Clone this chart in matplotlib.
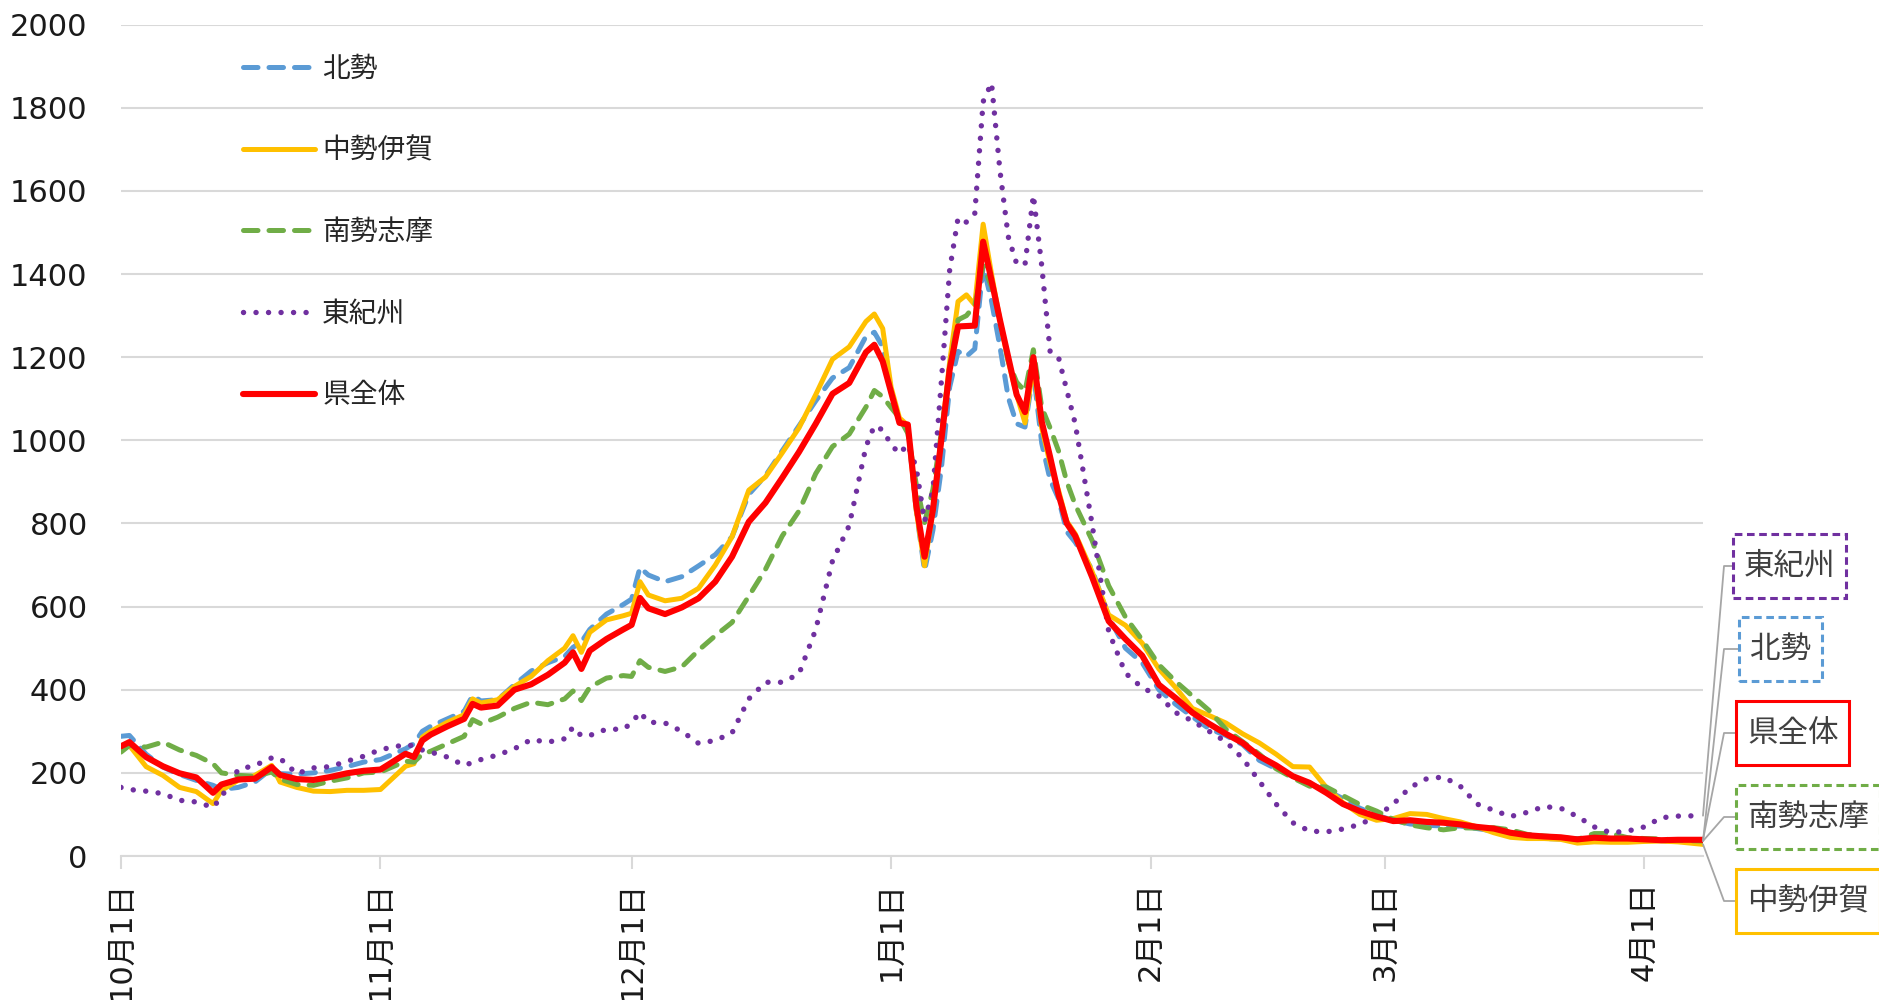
import numpy as np
import matplotlib
matplotlib.use('Agg')
import matplotlib.pyplot as plt
import matplotlib.dates as mdates
from matplotlib.path import Path
from matplotlib.ticker import FuncFormatter, MultipleLocator

plt.rcParams['font.family'] = ['DejaVu Sans', 'Noto Sans CJK JP']

# days since 2021-10-01
day_offsets = ([0, 1, 3, 5, 7, 9, 11, 12, 14, 16, 18, 19, 21, 23, 25, 27, 29, 31,
                34, 35, 36, 37, 39, 41, 42, 43, 45, 47, 49, 51, 53, 54, 55, 56, 58, 60,
                61, 62, 63, 65, 67, 69, 71, 73, 75, 77, 79, 81, 83, 85, 87, 89]
               + list(range(90, 115)) + list(range(116, 188, 2)) + [189])
dates = np.datetime64('2021-10-01') + np.array(day_offsets).astype('timedelta64[D]')

hokusei = [288, 290, 245, 214, 196, 182, 170, 160, 165, 178, 210, 198, 197, 200, 206, 215, 226, 232,
           258, 270, 300, 312, 330, 348, 386, 373, 376, 412, 445, 465, 480, 502, 515, 545, 582, 605,
           618, 694, 676, 660, 672, 698, 725, 768, 870, 915, 975, 1035, 1095, 1150, 1175, 1250,
           1260, 1225, 1116, 1042, 1030, 833, 686, 784, 931, 1128, 1214, 1202, 1220, 1420, 1335,
           1226, 1103, 1040, 1032, 1165, 993, 905, 860, 780, 755,
           690, 575, 500, 465, 400, 365, 335, 306, 290, 268, 230, 210, 192, 174, 158, 138, 115, 98,
           86, 77, 74, 72, 72, 66, 60, 52, 46, 42, 41, 42, 42, 42, 41, 39, 37, 36, 36]

chusei_iga = [258, 266, 215, 194, 165, 155, 126, 158, 182, 194, 218, 178, 165, 156, 155, 158, 158, 160,
              216, 222, 286, 300, 322, 340, 378, 368, 376, 408, 432, 470, 500, 530, 490, 538, 568, 578,
              584, 660, 628, 614, 620, 644, 700, 768, 880, 912, 970, 1030, 1110, 1195, 1225, 1286,
              1304, 1269, 1128, 1054, 1036, 833, 698, 833, 1005, 1189, 1334, 1350, 1326, 1520, 1400,
              1290, 1190, 1110, 1042, 1180, 1030, 944, 880, 805, 775,
              685, 580, 555, 512, 450, 405, 355, 338, 320, 294, 272, 245, 215, 214, 165, 128, 100, 86,
              90, 102, 100, 90, 82, 70, 56, 45, 42, 42, 40, 31, 34, 33, 33, 35, 36, 34, 28]

nansei_shima = [250, 266, 262, 274, 255, 242, 222, 200, 194, 192, 202, 185, 172, 170, 180, 188, 200, 202,
                228, 226, 245, 252, 270, 288, 328, 318, 334, 355, 370, 364, 378, 397, 374, 406, 428, 434,
                432, 470, 454, 444, 455, 495, 530, 562, 625, 690, 770, 830, 920, 985, 1015, 1080,
                1120, 1105, 1079, 1054, 1017, 895, 802, 882, 1017, 1177, 1290, 1300, 1325, 1420, 1370,
                1290, 1190, 1140, 1118, 1218, 1079, 1030, 975, 900, 845,
                760, 650, 575, 520, 460, 420, 385, 350, 305, 275, 245, 210, 188, 168, 166, 145, 124, 108,
                88, 75, 68, 63, 68, 67, 68, 63, 52, 48, 45, 40, 54, 54, 44, 42, 41, 38, 36]

higashi_kishu = [165, 160, 156, 150, 134, 130, 117, 142, 208, 218, 236, 235, 198, 212, 215, 228, 240, 256,
                 268, 265, 255, 250, 238, 218, 225, 232, 243, 258, 280, 274, 282, 310, 289, 290, 305, 305,
                 320, 346, 322, 320, 300, 271, 278, 296, 378, 418, 418, 438, 545, 710, 795, 985,
                 1035, 1025, 990, 968, 990, 935, 805, 880, 1140, 1410, 1535, 1525, 1546, 1815, 1860,
                 1650, 1490, 1425, 1423, 1590, 1420, 1214, 1200, 1120, 1040,
                 800, 540, 440, 405, 385, 345, 325, 300, 275, 235, 180, 125, 80, 60, 58, 65, 76, 95,
                 125, 165, 186, 190, 168, 125, 110, 95, 105, 119, 115, 95, 70, 56, 60, 70, 92, 96, 97]

ken_zentai = [264, 274, 238, 216, 199, 189, 152, 172, 184, 186, 214, 195, 185, 183, 190, 199, 205, 208,
              246, 238, 278, 292, 312, 330, 366, 357, 362, 400, 413, 436, 465, 490, 450, 494, 522, 545,
              556, 621, 596, 582, 598, 620, 660, 720, 804, 850, 910, 972, 1040, 1112, 1138, 1212,
              1230, 1190, 1116, 1042, 1038, 845, 720, 833, 1000, 1170, 1274, 1275, 1276, 1478, 1385,
              1290, 1200, 1110, 1068, 1200, 1045, 960, 870, 800, 770,
              672, 565, 522, 482, 412, 380, 345, 318, 294, 272, 240, 218, 192, 176, 152, 125, 108, 95,
              84, 86, 82, 80, 76, 70, 66, 56, 50, 47, 45, 40, 44, 42, 42, 40, 38, 39, 39]

names = ['北勢', '中勢伊賀', '南勢志摩', '東紀州', '県全体']
values = [hokusei, chusei_iga, nansei_shima, higashi_kishu, ken_zentai]
colors = ['#5B9BD5', '#FFC000', '#70AD47', '#7030A0', '#FF0000']
styles = [(0, (2.9, 2.2)), '-', (0, (2.9, 2.2)), (0, (0.01, 2.3)), '-']
widths = [3.6, 3.6, 3.6, 3.9, 4.4]

fig = plt.figure(figsize=(18.79, 10), dpi=100)
ax = fig.add_axes([121 / 1879, 0.144, 1582 / 1879, 0.8313])

lines = []
for name, vals, c, ls, lw in zip(names, values, colors, styles, widths):
    ln, = ax.plot(dates, vals, color=c, ls=ls, lw=lw, label=name,
                  dash_capstyle='round', solid_capstyle='round',
                  solid_joinstyle='round', dash_joinstyle='round')
    lines.append(ln)

ax.set_xlim(dates[0], dates[-1])
ax.set_ylim(0, 2000)
ax.yaxis.set_major_locator(MultipleLocator(200))
ax.yaxis.grid(True, color='#D9D9D9', lw=1.5)
ax.set_axisbelow(True)
for s in ['top', 'right', 'left']:
    ax.spines[s].set_visible(False)
ax.spines['bottom'].set_color('#D9D9D9')
ax.spines['bottom'].set_linewidth(1.5)

ax.xaxis.set_major_locator(mdates.MonthLocator(bymonthday=1))
ax.xaxis.set_major_formatter(FuncFormatter(
    lambda x, pos: f"{mdates.num2date(x).month}月{mdates.num2date(x).day}日"))
ax.tick_params(axis='x', length=9, width=1.5, color='#D9D9D9', pad=9,
               labelsize=22, labelrotation=90, labelcolor='#1a1a1a')
ax.tick_params(axis='y', length=0, pad=24, labelsize=22, labelcolor='#1a1a1a')

leg = ax.legend(handles=lines, loc='upper left', bbox_to_anchor=(243 / 1879, 0.945),
                bbox_transform=fig.transFigure, frameon=False, fontsize=20,
                handlelength=2.6, handletextpad=0.25, labelspacing=1.93,
                borderpad=0, borderaxespad=0)
for t in leg.get_texts():
    t.set_color('#262626')


def tall_box(x0, y0, width, height, mutation_size):
    # rectangle with more padding above/below than at the sides
    px, py = 0.35 * mutation_size, 0.56 * mutation_size
    x0, y0 = x0 - px, y0 - py
    x1, y1 = x0 + width + 2 * px, y0 + height + 2 * py
    return Path([(x0, y0), (x1, y0), (x1, y1), (x0, y1), (x0, y0)], closed=True)


# callout labels at the right end of each line
callouts = [
    ('東紀州', higashi_kishu, '#7030A0', (0, (2.5, 1.5)), 1744, 434),
    ('北勢', hokusei, '#5B9BD5', (0, (2.5, 1.5)), 1750, 351),
    ('県全体', ken_zentai, '#FF0000', '-', 1747, 267),
    ('南勢志摩', nansei_shima, '#70AD47', (0, (2.5, 1.5)), 1747, 183),
    ('中勢伊賀', chusei_iga, '#FFC000', '-', 1747, 99),
]
knee_x = 1724
x_end = mdates.date2num(dates[-1])
for name, vals, c, bls, tx, ty in callouts:
    px, py = ax.transData.transform((x_end, vals[-1]))
    ang = np.degrees(np.arctan2(ty - py, knee_x - px))
    ax.annotate(name, xy=(dates[-1], vals[-1]), xycoords='data',
                xytext=(tx, ty), textcoords='figure pixels',
                ha='left', va='center', fontsize=22, color='#404040',
                bbox=dict(boxstyle=tall_box, fc='white', ec=c, lw=2.2, ls=bls),
                arrowprops=dict(arrowstyle='-', color='#A6A6A6', lw=1.3,
                                shrinkA=0, shrinkB=0, relpos=(0, 0.5),
                                connectionstyle=f'angle,angleA=0,angleB={ang:.2f},rad=0'),
                annotation_clip=False)

fig.savefig('out.png', dpi=100)
